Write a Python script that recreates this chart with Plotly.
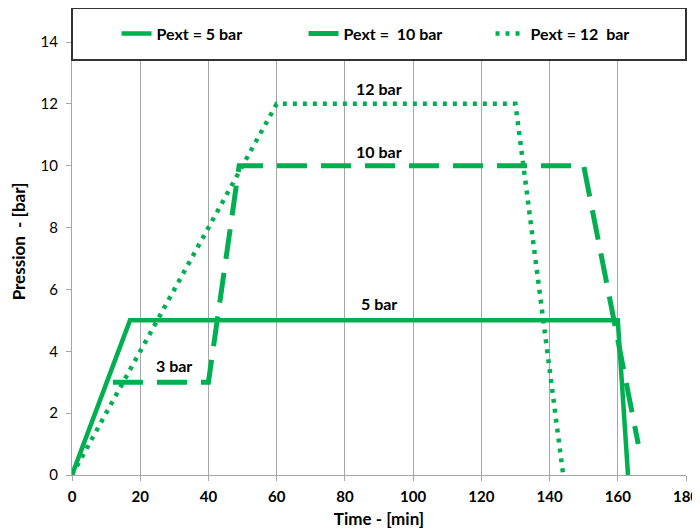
import plotly.graph_objects as go

GREEN = '#00B050'
FONT = 'Lato'

# pressure curves, time in min / pressure in bar
t_5 = [0, 17, 160, 163]
p_5 = [0, 5, 5, 0]
t_10 = [12, 40, 49, 150, 166]
p_10 = [3, 3, 10, 10, 1]
t_12 = [0, 60, 130, 144]
p_12 = [0, 12, 12, 0]

names = ['<b>Pext = 5 bar</b>', '<b>Pext =  10 bar</b>', '<b>Pext = 12  bar</b>']

# plateau labels
lab_text = ['12 bar', '10 bar', '5 bar', '3 bar']
lab_x = [90, 90, 90, 30]
lab_y = [12.5, 10.45, 5.55, 3.55]

fig = go.Figure()
fig.add_trace(go.Scatter(x=t_5, y=p_5, name=names[0], mode='lines',
                         line=dict(color=GREEN, width=4.5)))
fig.add_trace(go.Scatter(x=t_10, y=p_10, name=names[1], mode='lines',
                         line=dict(color=GREEN, width=5, dash='30px,14px')))
fig.add_trace(go.Scatter(x=t_12, y=p_12, name=names[2], mode='lines',
                         line=dict(color=GREEN, width=4.5, dash='4px,6px')))

for txt, x, y in zip(lab_text, lab_x, lab_y):
    fig.add_annotation(x=x, y=y, text=f'<b>{txt}</b>', showarrow=False,
                       font=dict(size=16, color='black', family=FONT))

# legend frame spanning the top of the plot area
fig.add_shape(type='rect', xref='paper', yref='paper', x0=0, x1=1,
              y0=0.8887, y1=1.0, line=dict(color='#333333', width=2),
              fillcolor='white', layer='above')

# page body has an 8px margin, so everything is offset by 8px
fig.update_layout(
    width=692, height=522,
    margin=dict(l=64, r=14, t=0, b=55),
    plot_bgcolor='white', paper_bgcolor='white',
    font=dict(family=FONT, size=15, color='black'),
    showlegend=True,
    legend=dict(orientation='h', x=0.0725, xanchor='left', y=0.945,
                yanchor='middle', bgcolor='rgba(0,0,0,0)',
                font=dict(size=16, family=FONT), entrywidth=142,
                itemwidth=30),
    xaxis=dict(range=[0, 180], dtick=20, showgrid=True, gridcolor='#a6a6a6',
               gridwidth=1, showline=True, linecolor='#a6a6a6',
               ticks='outside', ticklen=5, tickcolor='#a6a6a6',
               zeroline=False, automargin=False, ticklabelstandoff=3,
               ticklabeloverflow='allow',
               tickfont=dict(size=15, family=FONT),
               title=dict(text='<b>Time - [min]</b>', font=dict(size=17),
                          standoff=9)),
    yaxis=dict(range=[0, 15.1], tickvals=[0, 2, 4, 6, 8, 10, 12, 14],
               showgrid=False, showline=True, linecolor='#a6a6a6',
               ticks='outside', ticklen=5, tickcolor='#a6a6a6',
               zeroline=False, automargin=False, ticklabelstandoff=5,
               tickfont=dict(size=15, family=FONT),
               title=dict(text='<b>Pression  - [bar]</b>', font=dict(size=17),
                          standoff=10)),
)
fig.update_xaxes(tickprefix='<b>', ticksuffix='</b>')
fig.update_yaxes(tickprefix='<b>', ticksuffix='</b>')

fig.write_html('out.html')
